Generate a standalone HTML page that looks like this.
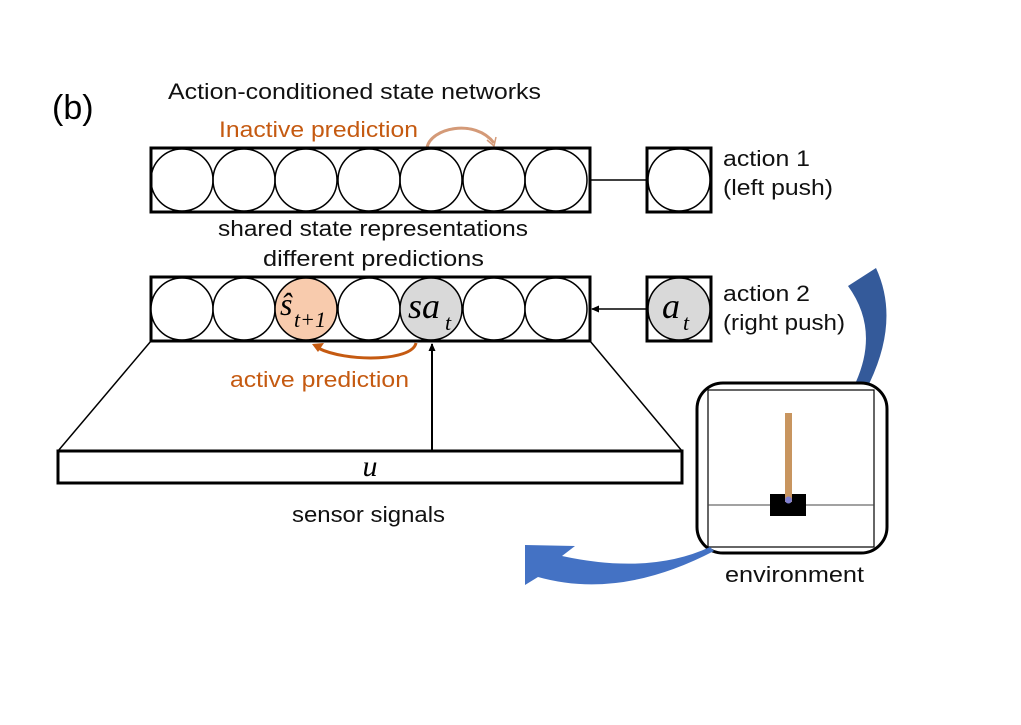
<!DOCTYPE html>
<html><head><meta charset="utf-8"><style>
body{margin:0;background:#fff;width:1021px;height:720px;overflow:hidden}
text{font-family:"Liberation Sans",sans-serif}
</style></head><body>
<svg width="1021" height="720" viewBox="0 0 1021 720" xmlns="http://www.w3.org/2000/svg">
<defs><marker id="ah" markerWidth="8" markerHeight="8" refX="7" refY="4" orient="auto" markerUnits="userSpaceOnUse"><path d="M0,0.5 L8,4 L0,7.5Z" fill="#000"/></marker></defs>
<text x="52" y="119" font-size="34">(b)</text>
<text x="168" y="99" font-size="22" textLength="373" lengthAdjust="spacingAndGlyphs" fill="#111">Action-conditioned state networks</text>
<text x="219" y="137" font-size="22" textLength="199" lengthAdjust="spacingAndGlyphs" fill="#c55a11">Inactive prediction</text>
<path d="M427,148 C430,128 475,118 494,143" fill="none" stroke="#d49a78" stroke-width="3"/>
<path d="M487,140 L494,146 L496,137" fill="none" stroke="#d49a78" stroke-width="1.5"/>
<rect x="151" y="148" width="439" height="64" fill="#fff" stroke="#000" stroke-width="3"/>
<g fill="none" stroke="#000" stroke-width="1.5">
<circle cx="182" cy="180" r="31"/><circle cx="244" cy="180" r="31"/><circle cx="306" cy="180" r="31"/><circle cx="369" cy="180" r="31"/><circle cx="431" cy="180" r="31"/><circle cx="494" cy="180" r="31"/><circle cx="556" cy="180" r="31"/>
</g>
<line x1="590" y1="180" x2="647" y2="180" stroke="#000" stroke-width="1.5"/>
<rect x="647" y="148" width="64" height="64" fill="#fff" stroke="#000" stroke-width="3"/>
<circle cx="679" cy="180" r="31" fill="none" stroke="#000" stroke-width="1.5"/>
<text x="723" y="166" font-size="22" textLength="87" lengthAdjust="spacingAndGlyphs" fill="#111">action 1</text>
<text x="723" y="195" font-size="22" textLength="110" lengthAdjust="spacingAndGlyphs" fill="#111">(left push)</text>
<text x="218" y="236" font-size="22" textLength="310" lengthAdjust="spacingAndGlyphs" fill="#111">shared state representations</text>
<text x="263" y="266" font-size="22" textLength="221" lengthAdjust="spacingAndGlyphs" fill="#111">different predictions</text>
<polyline points="151,341 58,451" stroke="#000" stroke-width="1.5" fill="none"/>
<polyline points="590,341 682,451" stroke="#000" stroke-width="1.5" fill="none"/>
<rect x="151" y="277" width="439" height="64" fill="#fff" stroke="#000" stroke-width="3"/>
<g stroke="#000" stroke-width="1.5">
<circle cx="182" cy="309" r="31" fill="#fff"/><circle cx="244" cy="309" r="31" fill="#fff"/><circle cx="306" cy="309" r="31" fill="#f8cbad"/><circle cx="369" cy="309" r="31" fill="#fff"/><circle cx="431" cy="309" r="31" fill="#d9d9d9"/><circle cx="494" cy="309" r="31" fill="#fff"/><circle cx="556" cy="309" r="31" fill="#fff"/>
</g>
<text x="280" y="315" font-size="32" font-style="italic" style="font-family:'Liberation Serif',serif">ŝ</text>
<text x="294" y="327" font-size="22" font-style="italic" style="font-family:'Liberation Serif',serif">t+1</text>
<text x="408" y="318" font-size="36" font-style="italic" style="font-family:'Liberation Serif',serif">sa</text>
<text x="445" y="330" font-size="22" font-style="italic" style="font-family:'Liberation Serif',serif">t</text>
<rect x="647" y="277" width="64" height="64" fill="#fff" stroke="#000" stroke-width="3"/>
<circle cx="679" cy="309" r="31" fill="#d9d9d9" stroke="#000" stroke-width="1.5"/>
<text x="662" y="318" font-size="36" font-style="italic" style="font-family:'Liberation Serif',serif">a</text>
<text x="683" y="330" font-size="22" font-style="italic" style="font-family:'Liberation Serif',serif">t</text>
<line x1="647" y1="309" x2="592" y2="309" stroke="#000" stroke-width="1.5" marker-end="url(#ah)"/>
<text x="723" y="301" font-size="22" textLength="87" lengthAdjust="spacingAndGlyphs" fill="#111">action 2</text>
<text x="723" y="330" font-size="22" textLength="122" lengthAdjust="spacingAndGlyphs" fill="#111">(right push)</text>
<path d="M416,343 C412,362 345,362 318,348" fill="none" stroke="#c55a11" stroke-width="3"/>
<path d="M312,344 L324,343 L318,352Z" fill="#c55a11"/>
<text x="230" y="387" font-size="22" textLength="179" lengthAdjust="spacingAndGlyphs" fill="#c55a11">active prediction</text>
<rect x="58" y="451" width="624" height="32" fill="#fff" stroke="#000" stroke-width="3"/>
<line x1="432" y1="451" x2="432" y2="344" stroke="#000" stroke-width="2" marker-end="url(#ah)"/>
<text x="370" y="476" font-size="30" font-style="italic" text-anchor="middle" style="font-family:'Liberation Serif',serif">u</text>
<text x="292" y="522" font-size="22" textLength="153" lengthAdjust="spacingAndGlyphs" fill="#111">sensor signals</text>
<path d="M855,384 Q880,330 848,286 L876,268 Q900,320 869,384Z" fill="#345a9a"/>
<rect x="697" y="383" width="190" height="170" rx="26" fill="#fff" stroke="#000" stroke-width="3"/>
<rect x="708" y="390" width="166" height="157" fill="none" stroke="#000" stroke-width="1.2"/>
<line x1="708" y1="505" x2="874" y2="505" stroke="#444" stroke-width="1"/>
<rect x="770" y="494" width="36" height="22" fill="#000"/>
<rect x="785" y="413" width="7" height="89" fill="#c8955f"/>
<circle cx="788.5" cy="500" r="3.5" fill="#8080d0"/>
<path d="M710,547 Q650,575 562,556 L575,546 L525,545 L525,585 L538,577 Q620,600 714,551Z" fill="#4472c4"/>
<text x="725" y="582" font-size="22" textLength="139" lengthAdjust="spacingAndGlyphs" fill="#111">environment</text>
</svg>
</body></html>
